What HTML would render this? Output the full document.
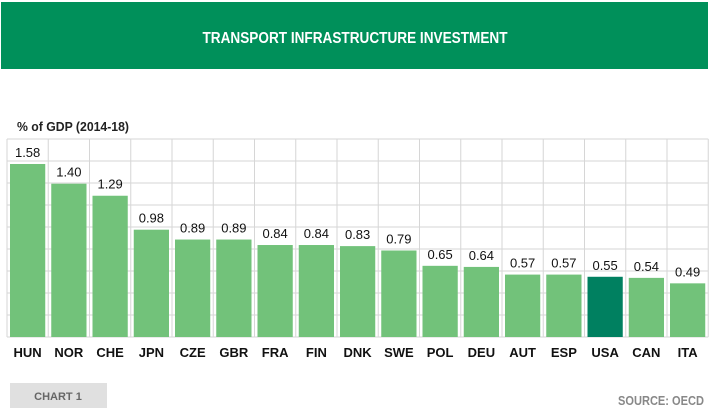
<!DOCTYPE html>
<html><head><meta charset="utf-8"><style>
body{margin:0;background:#fff;width:710px;height:415px;overflow:hidden;font-family:"Liberation Sans Narrow","Liberation Sans",sans-serif}
svg{display:block}
</style></head><body>
<svg id="chart" width="710" height="415">
<rect x="1" y="2" width="707" height="67" fill="#00905a"/>
<text x="355" y="43" text-anchor="middle" fill="#fff" font-weight="bold" font-size="16" textLength="305" lengthAdjust="spacingAndGlyphs">TRANSPORT INFRASTRUCTURE INVESTMENT</text>
<text x="17" y="131" font-size="13" font-weight="bold" fill="#222" textLength="112" lengthAdjust="spacingAndGlyphs">% of GDP (2014-18)</text>
<g id="grid"></g><g id="bars"></g>
<rect x="10" y="383" width="97" height="25" fill="#e0e0e0"/>
<text x="58" y="400" text-anchor="middle" font-size="11" font-weight="bold" fill="#666">CHART 1</text>
<text x="704" y="405" text-anchor="end" font-size="13" font-weight="bold" fill="#888" textLength="86" lengthAdjust="spacingAndGlyphs">SOURCE: OECD</text>
</svg>
<script>
const categories=["HUN","NOR","CHE","JPN","CZE","GBR","FRA","FIN","DNK","SWE","POL","DEU","AUT","ESP","USA","CAN","ITA"];
const values=[1.58,1.40,1.29,0.98,0.89,0.89,0.84,0.84,0.83,0.79,0.65,0.64,0.57,0.57,0.55,0.54,0.49];
const valueLabels=["1.58","1.40","1.29","0.98","0.89","0.89","0.84","0.84","0.83","0.79","0.65","0.64","0.57","0.57","0.55","0.54","0.49"];
const highlight=["USA"];
const NS="http://www.w3.org/2000/svg";
const plotLeft=7,colW=41.25,plotBottom=337,plotTop=139,pxPerUnit=109.5,gridN=9;
const xPos=i=>plotLeft+i*colW;
const yPos=v=>plotBottom-v*pxPerUnit;
const grid=document.getElementById('grid'),bars=document.getElementById('bars');
function mk(t,a,p){const e=document.createElementNS(NS,t);for(const k in a)e.setAttribute(k,a[k]);p.appendChild(e);return e;}
for(let k=0;k<=gridN;k++){const gy=plotTop+k*(plotBottom-plotTop)/gridN;
const l=mk('line',{x1:plotLeft,x2:plotLeft+categories.length*colW,y1:gy,y2:gy,stroke:'#d6d6d6','stroke-width':1},grid);

}
for(let i=0;i<=categories.length;i++){
const l=mk('line',{x1:xPos(i),x2:xPos(i),y1:plotTop,y2:plotBottom,stroke:'#d6d6d6','stroke-width':1},grid);

}
categories.forEach((c,i)=>{
const v=values[i];
const r=mk('rect',{x:xPos(i)+3,y:yPos(v),width:colW-6,height:plotBottom-yPos(v),fill:highlight.includes(c)?'#008060':'#72c27a'},bars);


const t=mk('text',{x:xPos(i)+colW/2,y:yPos(v)-7,'text-anchor':'middle','font-size':13,fill:'#111'},bars);
t.textContent=valueLabels[i];


const a=mk('text',{x:xPos(i)+colW/2,y:357,'text-anchor':'middle','font-size':13,'font-weight':'bold',fill:'#111'},bars);
a.textContent=c;


});
</script>
</body></html>
